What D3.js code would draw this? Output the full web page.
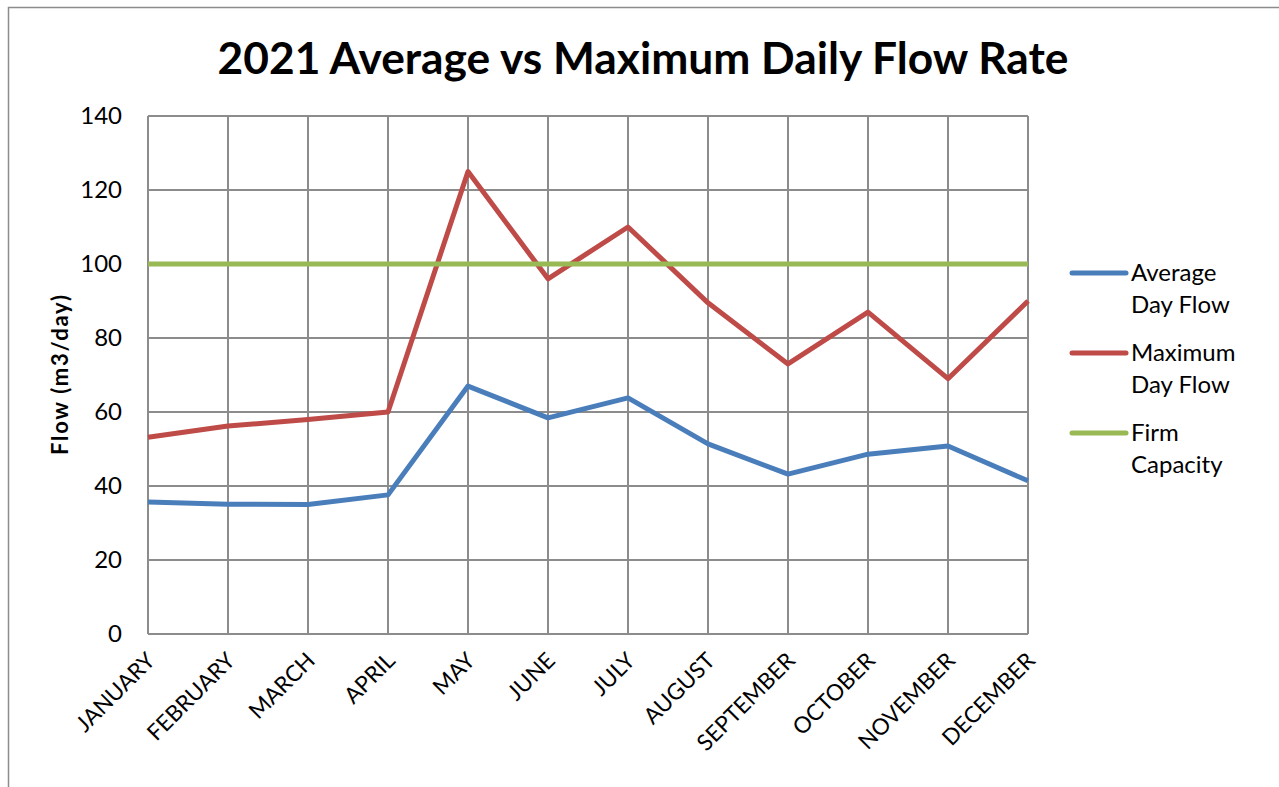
<!DOCTYPE html>
<html>
<head>
<meta charset="utf-8">
<script src="https://cdn.jsdelivr.net/npm/d3@7"></script>
<style>
	body { margin: 0; background: #fff; }
	text { font-family: Lato, "Noto Sans", sans-serif; fill: #000; }
</style>
</head>
<body>
<svg id="chart"></svg>
<script>
let months = ["JANUARY", "FEBRUARY", "MARCH", "APRIL", "MAY", "JUNE", "JULY", "AUGUST", "SEPTEMBER", "OCTOBER", "NOVEMBER", "DECEMBER"];
let avgFlow = [35.7, 35.1, 35.0, 37.6, 67.0, 58.4, 63.8, 51.4, 43.2, 48.6, 50.8, 41.4];
let maxFlow = [53.2, 56.2, 58.0, 60.0, 125.0, 96.0, 110.0, 89.5, 73.0, 87.0, 69.0, 90.0];
let firmCapacity = [100, 100, 100, 100, 100, 100, 100, 100, 100, 100, 100, 100];
let yTicks = [0, 20, 40, 60, 80, 100, 120, 140];

let seriesList = [
	{ name: ["Average", "Day Flow"], values: avgFlow, color: "#4a7ebb" },
	{ name: ["Maximum", "Day Flow"], values: maxFlow, color: "#be4b48" },
	{ name: ["Firm", "Capacity"], values: firmCapacity, color: "#98b954" }
];

let svgWidth = 1279, svgHeight = 787;
let margin = { top: 116, right: 251, bottom: 153, left: 148 };
let width = svgWidth - margin.left - margin.right;
let height = svgHeight - margin.top - margin.bottom;

let svg = d3.select("#chart")
	.attr("width", svgWidth)
	.attr("height", svgHeight);

// outer frame (right and bottom edges fall outside the picture)
svg.append("rect")
	.attr("x", 8.5)
	.attr("y", 7.5)
	.attr("width", svgWidth)
	.attr("height", svgHeight)
	.attr("fill", "none")
	.attr("stroke", "#8c8c8c")
	.attr("stroke-width", 1.5);

// title
let title = svg.append("text")
	.attr("x", 643)
	.attr("y", 74)
	.attr("text-anchor", "middle")
	.attr("font-weight", "bold")
	.attr("font-size", 38)
	.text("2021 Average vs Maximum Daily Flow Rate");
let tw = title.node().getComputedTextLength();
title.attr("font-size", 38 * 851 / tw);

let g = svg.append("g")
	.attr("transform", "translate(" + margin.left + "," + margin.top + ")");

//scales
let x = d3.scalePoint()
	.domain(months)
	.range([0, width]);
let y = d3.scaleLinear()
	.domain([0, 140])
	.range([height, 0]);

//grid
g.append("g")
	.selectAll("line")
	.data(yTicks)
	.enter()
	.append("line")
	.attr("x1", 0)
	.attr("x2", width)
	.attr("y1", d => y(d))
	.attr("y2", d => y(d))
	.attr("stroke", "#8c8c8c")
	.attr("stroke-width", 2);

g.append("g")
	.selectAll("line")
	.data(months)
	.enter()
	.append("line")
	.attr("x1", d => x(d))
	.attr("x2", d => x(d))
	.attr("y1", 0)
	.attr("y2", height)
	.attr("stroke", "#8c8c8c")
	.attr("stroke-width", 2);

//y-axis labels
let yAxis = g.append("g")
	.call(d3.axisLeft(y).tickValues(yTicks).tickSize(0).tickPadding(26));
yAxis.select(".domain").remove();
yAxis.selectAll("text")
	.attr("font-size", 24)
	.attr("font-family", "Lato, 'Noto Sans', sans-serif");

//x-axis labels
let xAxis = g.append("g")
	.attr("transform", "translate(0," + height + ")")
	.call(d3.axisBottom(x).tickSize(0));
xAxis.select(".domain").remove();
xAxis.selectAll("text")
	.attr("font-size", 22.5)
	.attr("font-family", "Lato, 'Noto Sans', sans-serif")
	.attr("text-anchor", "end")
	.attr("dy", null)
	.attr("y", 0)
	.attr("transform", "translate(8,28) rotate(-45)");

//y-axis title
svg.append("text")
	.attr("transform", "translate(68,375) rotate(-90)")
	.attr("text-anchor", "middle")
	.attr("font-weight", "bold")
	.attr("font-size", 22)
	.attr("textLength", 160)
	.attr("lengthAdjust", "spacing")
	.text("Flow (m3/day)");

//lines
let line = d3.line()
	.x((d, i) => x(months[i]))
	.y(d => y(d));

for (let i = 0; i < seriesList.length; i++)
{
	g.append("path")
		.datum(seriesList[i].values)
		.attr("fill", "none")
		.attr("stroke", seriesList[i].color)
		.attr("stroke-width", 5)
		.attr("stroke-linejoin", "round")
		.attr("d", line);
}

//legend
let legend = svg.append("g")
	.attr("transform", "translate(1072,273)");

for (let i = 0; i < seriesList.length; i++)
{
	let item = legend.append("g")
		.attr("transform", "translate(0," + (i * 80) + ")");
	item.append("line")
		.attr("x1", 0)
		.attr("x2", 54)
		.attr("stroke", seriesList[i].color)
		.attr("stroke-width", 5)
		.attr("stroke-linecap", "round");
	for (let j = 0; j < 2; j++)
	{
		item.append("text")
			.attr("x", 59)
			.attr("y", 8 + j * 32)
			.attr("font-size", 24)
			.text(seriesList[i].name[j]);
	}
}
</script>
</body>
</html>
